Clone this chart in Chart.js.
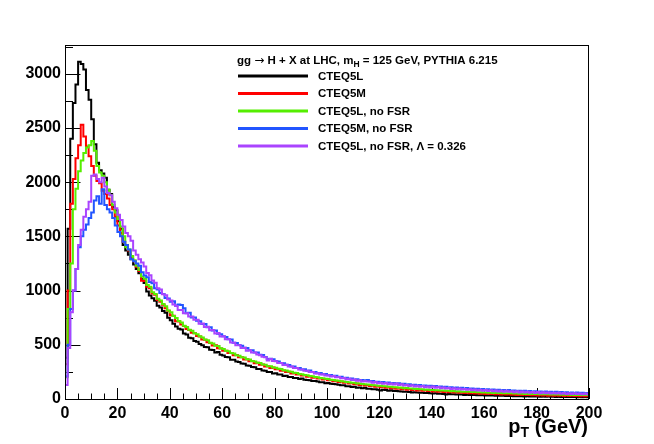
<!DOCTYPE html>
<html><head><meta charset="utf-8">
<script src="https://cdn.jsdelivr.net/npm/chart.js@4.4.0/dist/chart.umd.min.js"></script>
<style>html,body{margin:0;padding:0;background:#fff;}#wrap{width:654px;height:444px;position:relative}</style>
</head><body><div id="wrap"><canvas id="c" width="654" height="444"></canvas></div>
<script>
// ---- data (1 GeV bins from 0 to 200 GeV) ----
const binLow = 0;
const binWidth = 1;
const xTicks = [0,20,40,60,80,100,120,140,160,180,200];
const yTicks = [0,500,1000,1500,2000,2500,3000];
const yMax = 3265;
const titleText = ["gg ", "\u2192", " H + X at LHC, m", "H", " = 125 GeV, PYTHIA 6.215"];
const seriesNames = ["CTEQ5L", "CTEQ5M", "CTEQ5L, no FSR", "CTEQ5M, no FSR", "CTEQ5L, no FSR, \u039B = 0.326"];

const cteq5l = [380,1570,2400,2730,2900,3110,3090,3040,2850,2760,
2580,2350,2180,2110,2080,2040,1930,1890,1770,1740,
1640,1570,1420,1370,1330,1290,1240,1200,1160,1110,
1070,992,955,930,906,860,845,812,795,750,
726,695,668,648,640,604,596,566,560,534,
528,508,496,480,478,455,452,428,434,408,
402,388,384,362,362,346,342,328,324,308,
306,296,292,276,276,262,260,248,250,236,
238,225,226,212,214,203,204,194,194,185,
188,177,176,172,167,167,162,155,154,146,
148,140,139,135,131,126,126,118,118,111,
112,104,106,98,103,95,95,91,90,85,
79,85,82,77,80,73,74,71,70,67,
66,64,60,63,61,57,58,55,55,52,
51,53,48,49,46,42,47,43,43,42,
41,41,38,39,38,36,38,34,35,34,
33,33,32,32,30,31,29,29,28,27,
28,26,26,25,26,23,25,23,24,22,
23,21,22,21,22,20,21,19,20,19,
20,18,19,18,19,17,18,17,18,17];

const cteq5m = [320,1000,1800,2030,2220,2340,2530,2420,2330,2240,
2150,2060,2010,1990,1920,1890,1850,1790,1750,1680,
1600,1530,1450,1420,1370,1310,1270,1220,1180,1090,
1088,1036,1022,972,961,912,896,870,838,815,
772,768,716,714,686,674,645,636,610,606,
580,577,549,546,523,516,494,495,468,466,
445,446,424,425,403,405,384,384,364,366,
348,350,330,334,316,318,300,302,286,290,
274,275,260,262,248,252,236,240,226,229,
216,219,206,210,196,200,188,192,180,184,
172,176,164,169,156,162,150,154,144,148,
137,142,130,136,124,130,119,124,114,119,
108,114,104,109,99,104,94,100,90,96,
86,92,82,89,79,85,76,82,73,79,
70,76,67,73,64,70,62,67,60,64,
57,62,55,60,53,58,51,56,49,54,
47,52,45,50,44,49,42,47,41,45,
39,44,38,42,37,41,36,40,34,39,
33,38,32,37,31,36,30,35,29,34,
28,33,27,32,27,31,26,30,25,29];

const cteq5lNoFsr = [200,830,1250,1750,1940,2100,2200,2270,2320,2340,
2380,2290,2150,2090,2060,2000,1930,1880,1790,1720,
1660,1590,1500,1400,1380,1320,1280,1230,1190,1130,
1108,1052,1036,985,968,925,908,876,856,816,
800,766,746,720,706,676,664,638,630,606,
598,578,568,548,541,518,513,492,488,468,
462,446,440,424,420,404,400,385,382,366,
364,350,346,334,331,318,316,303,302,290,
288,278,276,265,262,253,251,241,240,231,
229,221,219,211,209,202,201,194,192,186,
184,178,176,170,169,163,162,156,155,150,
149,144,143,138,137,133,132,127,127,122,
122,117,117,113,113,109,109,104,105,100,
101,96,97,93,94,90,90,86,87,84,
84,80,81,78,78,75,76,72,73,70,
71,68,68,66,66,64,64,62,62,60,
60,58,58,56,57,55,55,53,54,52,
52,50,50,49,49,47,48,46,47,45,
45,44,44,43,43,42,42,41,41,40,
40,39,39,38,38,37,38,36,37,36];

const cteq5mNoFsr = [210,500,830,1000,1200,1400,1500,1560,1610,1670,
1720,1830,1870,1800,1935,1790,1750,1720,1670,1600,
1540,1500,1450,1420,1380,1290,1270,1250,1230,1170,
1140,1122,1078,1068,1022,1010,978,968,932,928,
898,902,862,872,868,836,792,795,752,752,
722,718,692,692,662,662,632,632,602,598,
578,572,552,548,518,516,498,492,472,470,
450,450,430,428,408,406,388,368,372,366,
350,346,333,330,316,314,300,300,286,286,
273,274,260,262,248,250,238,239,228,230,
220,222,212,214,203,205,194,197,186,189,
178,182,173,176,168,176,163,166,158,160,
152,156,148,152,144,148,143,145,136,140,
132,136,128,132,124,129,121,125,118,122,
118,120,112,116,108,112,104,109,101,105,
98,103,95,101,93,97,90,95,88,92,
85,90,83,88,81,86,78,84,77,82,
74,79,73,77,71,76,69,74,67,72,
66,70,64,69,62,67,60,66,59,64,
57,62,56,61,54,60,53,58,52,56];

const cteq5lNoFsrLambda = [130,470,800,1000,1200,1420,1560,1680,1750,1820,
2060,2070,2030,2000,2040,1960,1900,1880,1820,1760,
1700,1650,1590,1530,1500,1460,1370,1330,1290,1260,
1222,1162,1142,1092,1072,1022,1010,966,958,918,
908,872,858,822,822,792,792,762,762,732,
732,694,696,664,666,634,636,604,608,576,
578,550,552,522,518,496,496,470,472,446,
450,430,428,410,404,390,386,354,368,350,
348,332,332,314,316,300,300,286,286,272,
272,260,260,248,248,236,238,226,228,216,
220,208,212,200,203,191,194,183,187,175,
179,168,173,162,167,162,162,151,157,146,
151,141,147,137,143,133,142,130,135,125,
130,120,126,116,122,113,119,109,116,106,
116,104,110,100,106,96,102,93,99,89,
96,87,93,86,91,81,88,79,86,76,
83,74,81,72,79,70,76,68,75,66,
72,63,71,61,69,60,67,58,65,56,
64,54,62,53,60,51,58,50,57,49,
55,47,54,46,52,45,51,44,50,43];

const seriesColors = ["#000000", "#ff0000", "#55ee00", "#2255ff", "#aa44ff"];
const seriesValues = [cteq5l, cteq5m, cteq5lNoFsr, cteq5mNoFsr, cteq5lNoFsrLambda];

function histPoints(vals) {
  const pts = [{x: binLow, y: 0}];
  vals.forEach((v, i) => pts.push({x: binLow + i * binWidth, y: v}));
  pts.push({x: binLow + vals.length * binWidth, y: vals[vals.length - 1]});
  return pts;
}

const FONT = '"Liberation Sans", Arial, Helvetica, sans-serif';

const decor = {
  id: 'decor',
  beforeDatasetsDraw(chart) {
    const {ctx, chartArea: a, scales: {x, y}} = chart;
    ctx.save();
    ctx.strokeStyle = '#000';
    ctx.lineWidth = 1;
    ctx.beginPath();
    for (let v = 0; v <= 200; v += 5) {
      const px = Math.round(x.getPixelForValue(v)) + 0.5;
      const len = (v % 20 === 0) ? 11 : 5.5;
      ctx.moveTo(px, a.bottom); ctx.lineTo(px, a.bottom - len);
    }
    for (let v = 0; v <= yMax; v += 250) {
      const py = Math.round(y.getPixelForValue(v)) + 0.5;
      const len = (v % 500 === 0) ? 15.5 : 8;
      ctx.moveTo(a.left, py); ctx.lineTo(a.left + len, py);
    }
    ctx.stroke();
    ctx.restore();
  },
  afterDraw(chart) {
    const {ctx, chartArea: a} = chart;
    ctx.save();
    ctx.strokeStyle = '#000';
    ctx.lineWidth = 1;
    ctx.strokeRect(Math.round(a.left) + 0.5, Math.round(a.top) + 0.5,
      Math.round(a.right - a.left) - 1, Math.round(a.bottom - a.top));
    // legend title
    ctx.fillStyle = '#000';
    ctx.textBaseline = 'alphabetic';
    let tx = 237, ty = 64;
    const tparts = [
      [titleText[0], 'bold 11.5px ' + FONT, 0],
      [titleText[1], '12px "DejaVu Sans", sans-serif', 0],
      [titleText[2], 'bold 11.5px ' + FONT, 0],
      [titleText[3], 'bold 8.5px ' + FONT, 3],
      [titleText[4], 'bold 11.5px ' + FONT, 0]
    ];
    tparts.forEach(p => { ctx.font = p[1]; ctx.fillText(p[0], tx, ty + p[2]); tx += ctx.measureText(p[0]).width; });
    // legend entries
    const rows = [76, 93.5, 111, 128.5, 146];
    seriesNames.forEach((name, i) => {
      const ry = rows[i];
      ctx.strokeStyle = seriesColors[i];
      ctx.lineWidth = 3;
      ctx.beginPath(); ctx.moveTo(238, ry); ctx.lineTo(308, ry); ctx.stroke();
      ctx.fillStyle = '#000';
      ctx.font = 'bold 11.5px ' + FONT;
      ctx.textBaseline = 'middle';
      ctx.fillText(name, 318, ry + 0.5);
    });
    // x axis title p_T (GeV)
    ctx.textBaseline = 'alphabetic';
    const parts = [["p", 'bold 20px ', 0], ["T", 'bold 14px ', 4], [" (GeV)", 'bold 20px ', 0]];
    let w = 0;
    parts.forEach(p => { ctx.font = p[1] + FONT; w += ctx.measureText(p[0]).width; });
    let px = 588 - w;
    parts.forEach(p => { ctx.font = p[1] + FONT; ctx.fillText(p[0], px, 433 + p[2]); px += ctx.measureText(p[0]).width; });
    ctx.restore();
  }
};

new Chart(document.getElementById('c'), {
  type: 'line',
  data: {
    datasets: seriesValues.map((vals, i) => ({
      label: seriesNames[i],
      data: histPoints(vals),
      borderColor: seriesColors[i],
      borderWidth: 2,
      pointRadius: 0,
      stepped: 'before',
      fill: false,
      order: seriesValues.length - i
    }))
  },
  options: {
    responsive: false,
    animation: false,
    devicePixelRatio: 1,
    layout: {padding: {top: 45, right: 65, left: 0, bottom: 0}},
    plugins: {legend: {display: false}, tooltip: {enabled: false}},
    scales: {
      x: {
        type: 'linear', min: 0, max: 200,
        afterBuildTicks: s => { s.ticks = xTicks.map(v => ({value: v})); },
        afterFit: s => { s.height = 45; },
        grid: {display: false, drawTicks: false},
        border: {display: false},
        ticks: {color: '#000', font: {family: FONT, size: 16, weight: 'bold'}, padding: 5, maxRotation: 0, autoSkip: false,
          callback: v => String(v)}
      },
      y: {
        type: 'linear', min: 0, max: yMax,
        afterBuildTicks: s => { s.ticks = yTicks.map(v => ({value: v})); },
        afterFit: s => { s.width = 65; },
        grid: {display: false, drawTicks: false},
        border: {display: false},
        ticks: {color: '#000', font: {family: FONT, size: 16, weight: 'bold'}, padding: 4,
          callback: v => String(v)}
      }
    }
  },
  plugins: [decor]
});
</script></body></html>
